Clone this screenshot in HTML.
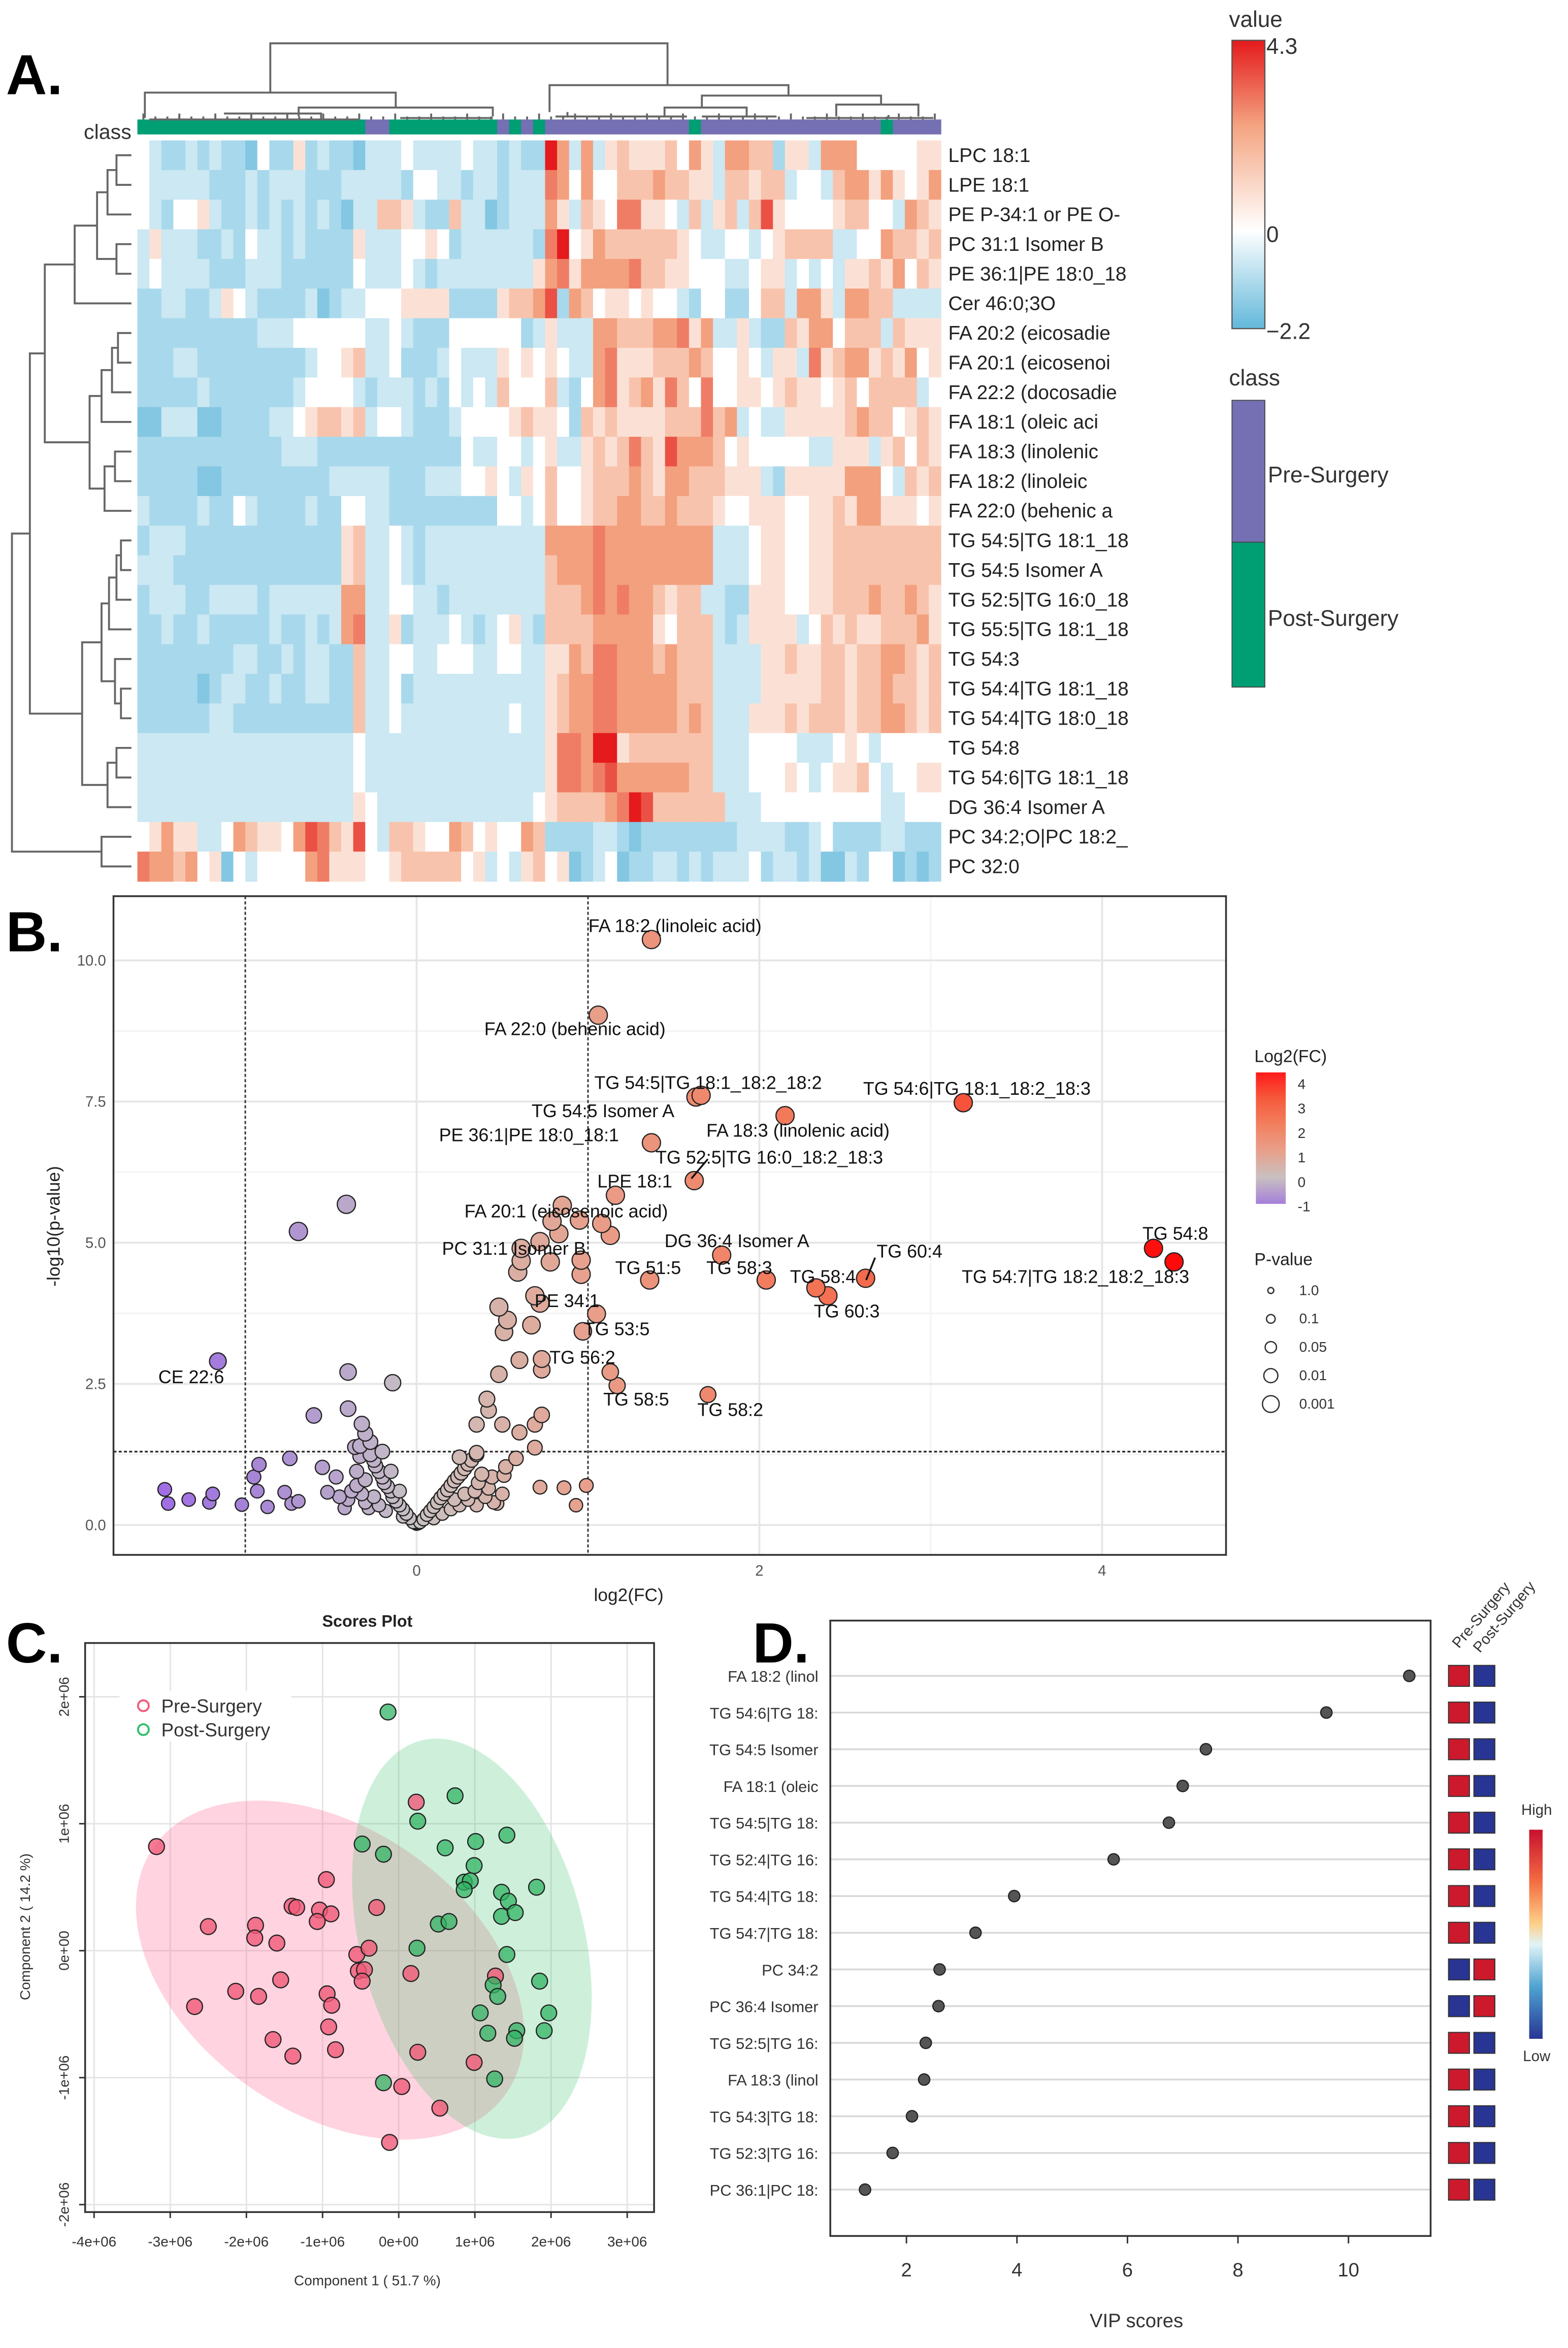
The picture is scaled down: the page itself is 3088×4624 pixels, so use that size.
<!DOCTYPE html>
<html><head><meta charset="utf-8">
<style>
html,body{margin:0;padding:0;background:#fff}
svg{display:block}
text{font-family:"Liberation Sans",sans-serif}
</style></head>
<body>
<svg id="fig" xmlns="http://www.w3.org/2000/svg" width="3088" height="4624" viewBox="0 0 1050 1572" preserveAspectRatio="none"></svg>
<script>
/* ================= DATA ================= */
// Panel A heatmap
const hmRowLabels = ["LPC 18:1","LPE 18:1","PE P-34:1 or PE O-","PC 31:1 Isomer B","PE 36:1|PE 18:0_18","Cer 46:0;3O","FA 20:2 (eicosadie","FA 20:1 (eicosenoi","FA 22:2 (docosadie","FA 18:1 (oleic aci","FA 18:3 (linolenic","FA 18:2 (linoleic","FA 22:0 (behenic a","TG 54:5|TG 18:1_18","TG 54:5 Isomer A","TG 52:5|TG 16:0_18","TG 55:5|TG 18:1_18","TG 54:3","TG 54:4|TG 18:1_18","TG 54:4|TG 18:0_18","TG 54:8","TG 54:6|TG 18:1_18","DG 36:4 Isomer A","PC 34:2;O|PC 18:2_","PC 32:0"];
const hmClass = "GGGGGGGGGGGGGGGGGGGPPGGGGGGGGGPGPGPPPPPPPPPPPPGPPPPPPPPPPPPPPPGPPPP";
const hmCodeValues = {"1":-1.6,"2":-1.0,"3":-0.5,"4":0,"5":0.5,"6":1.0,"7":1.6,"8":2.3,"9":3.2,"X":4.3};
const hmRows = [
"4322323221 4225232213 3343333433 2322 X737356555 6475377662 5537774444 455",
"4333332223 2333222333 3324433233 2333 8747446667 6655366566 3443677575 457",
"4324453223 2323232133 6653226331 2333 7536548855 4363563695 4444566443 765",
"3533322324 3323222253 3344542333 3332 8X45766666 6543344345 6666334476 656",
"3433332223 3322222243 3343233333 3335 7857777866 5544433455 3434355657 465",
"2233223543 2222312334 4455552222 5667 9276455454 4324422466 3775377663 333",
"2222222222 3334444443 3432224444 4423 5333776667 7857335322 6577466636 555",
"2223322222 2222344563 3422234333 5454 5433785556 6676445435 5385677565 745",
"2222232222 2223444432 3332324343 6444 6324785675 8648445545 6554564666 634",
"1133311222 2334566563 4432223444 4565 5426565555 6668673433 5555567664 565",
"2222222222 2233322222 2222222433 4434 5335656865 9777645444 4433555356 465",
"2222211222 2222223333 3222333445 4354 6445666765 7766655532 5555577743 656",
"3222232243 2222322443 3222222222 4434 6445667766 7666544555 4455657755 545",
"2333222222 2222222563 3432333333 3333 7777877777 7777333455 4455666666 666",
"3332222222 2222222563 3432333333 3333 6777877777 7777333455 4455666666 666",
"2333223333 2333333773 3443323333 3333 6667878776 5663322555 4455666766 765",
"2232232222 2322323783 3523334323 4532 6666777775 4666323555 5346565566 675",
"2222222233 2232332263 3443344433 4433 5576887776 7666333355 6556656677 656",
"2222212332 2322332263 3423333333 3333 5677887777 7666333355 5556656676 656",
"2222223322 2222222263 3433333333 3433 5677887777 7676333555 6566656677 656",
"3333333333 3333333343 3333333333 3333 5887XX5666 6666333444 4333454344 444",
"3333333333 3333333343 3333333333 3333 5887897777 7766333444 5434556434 455",
"3333333333 3333333354 3333333333 3334 5666678X96 6666633344 4444444433 444",
"4575533476 5547986594 3665447645 4476 2222332122 2222223333 2234222233 222",
"8776745143 4444785554 4566666453 4356 4512341223 3232333423 3231132441 212"
];
// Panel B volcano
const volcLog2FC = [1.37,1.06,1.66,1.63,3.19,2.15,1.37,1.62,1.16,0.85,0.79,0.95,1.08,1.13,0.83,0.72,0.61,0.61,0.78,0.96,0.59,0.96,1.78,1.36,2.04,2.33,2.40,2.62,4.30,4.42,0.69,0.72,0.48,0.53,0.51,0.67,1.05,0.97,0.60,0.73,0.73,0.48,1.13,1.17,1.70,-1.16,-0.41,-0.69,-0.40,-0.14,-0.40,-0.60,-0.32,0.41,0.42,0.73,0.35,0.50,0.69,0.60,0.69,0.58,0.52,0.51,0.72,0.86,0.99,0.93,0.35,0.47,
-1.47,-1.45,-1.33,-1.19,-1.21,-1.02,-0.92,-0.95,-0.93,-0.87,-0.74,-0.77,-0.73,-0.69,-0.55,-0.52,-0.47,-0.36,-0.33,-0.27,-0.30,
-0.02,-0.04,-0.06,-0.08,-0.10,-0.12,-0.14,-0.15,-0.17,-0.19,-0.20,-0.22,-0.24,-0.25,-0.27,-0.30,-0.32,-0.35,-0.38,-0.40,-0.28,-0.22,-0.18,-0.25,-0.30,-0.35,-0.42,-0.45,-0.20,-0.33,-0.15,-0.10,-0.08,
0.02,0.04,0.06,0.08,0.10,0.12,0.14,0.16,0.18,0.20,0.22,0.24,0.26,0.28,0.30,0.32,0.34,0.36,0.38,0.40,0.42,0.30,0.25,0.20,0.35,0.45,0.15,0.50,0.10,0.28,0.22,0.44,0.35,0.25,0.00,0.01,-0.01];
const volcNegLogP = [10.37,9.03,7.61,7.58,7.48,7.25,6.77,6.10,5.84,5.66,5.38,5.40,5.34,5.13,5.16,5.02,4.90,4.68,4.66,4.69,4.48,4.44,4.78,4.34,4.34,4.20,4.06,4.37,4.90,4.66,4.06,3.93,3.86,3.63,3.42,3.54,3.74,3.43,2.92,2.94,2.75,2.67,2.71,2.47,2.31,2.90,5.68,5.20,2.71,2.52,2.06,1.94,1.79,2.23,2.03,1.95,1.78,1.78,1.78,1.64,1.37,1.18,1.03,0.88,0.67,0.66,0.70,0.35,1.28,0.38,
0.63,0.38,0.45,0.55,0.40,0.36,1.07,0.85,0.60,0.32,1.18,0.58,0.38,0.42,1.02,0.58,0.85,1.38,1.22,1.47,1.62,
0.05,0.12,0.20,0.28,0.35,0.42,0.50,0.60,0.68,0.75,0.85,0.95,1.05,1.15,1.25,0.40,0.55,0.70,0.60,0.45,0.30,0.35,0.25,0.50,0.80,0.95,0.30,0.50,1.30,1.40,0.95,0.60,0.15,
0.05,0.10,0.18,0.25,0.32,0.40,0.48,0.55,0.62,0.70,0.78,0.85,0.92,1.00,1.08,1.15,0.60,0.75,0.90,0.50,0.65,0.45,0.35,0.28,0.35,0.40,0.20,0.55,0.12,0.55,0.45,0.85,1.25,1.20,0.02,0.03,0.04];
const volcLabels = ["FA 18:2 (linoleic acid)","FA 22:0 (behenic acid)","TG 54:5|TG 18:1_18:2_18:2","TG 54:6|TG 18:1_18:2_18:3","TG 54:5 Isomer A","FA 18:3 (linolenic acid)","PE 36:1|PE 18:0_18:1","TG 52:5|TG 16:0_18:2_18:3","LPE 18:1","FA 20:1 (eicosenoic acid)","DG 36:4 Isomer A","TG 60:4","TG 54:8","PC 31:1 Isomer B","TG 51:5","TG 58:3","TG 58:4","TG 54:7|TG 18:2_18:2_18:3","PE 34:1","TG 60:3","TG 53:5","TG 56:2","CE 22:6","TG 58:5","TG 58:2"];
const volcXTicks = [0,2,4];
const volcYTicks = [0,2.5,5,7.5,10];
const volcYTickLabels = ["0.0","2.5","5.0","7.5","10.0"];
const fcLegendVals = [4,3,2,1,0,-1];
const pLegendLabels = ["1.0","0.1","0.05","0.01","0.001"];
// Panel C scores (units of 1e6)
const preX = [-3.18,-0.95,-1.40,-1.34,-1.04,-0.89,-1.07,-2.50,-1.88,-1.89,-1.60,-0.29,-0.55,-0.39,-0.53,-0.45,-0.48,-1.55,-2.14,-1.84,-0.94,-0.88,-2.68,-0.92,-1.65,-1.39,-0.83,0.16,0.23,0.25,0.99,1.27,0.04,0.54,-0.12];
const preY = [0.82,0.56,0.35,0.34,0.32,0.29,0.23,0.19,0.20,0.10,0.06,0.34,-0.03,0.02,-0.16,-0.15,-0.24,-0.23,-0.32,-0.36,-0.34,-0.43,-0.44,-0.60,-0.70,-0.83,-0.78,-0.18,1.17,-0.80,-0.88,-0.20,-1.07,-1.24,-1.51];
const postX = [-0.14,0.74,0.25,-0.48,-0.20,0.61,1.01,1.42,0.99,0.86,0.94,0.86,1.81,1.35,1.44,1.35,1.53,0.52,0.66,0.24,1.42,1.85,1.24,1.30,1.97,1.07,1.17,1.55,1.52,1.91,-0.20,1.26];
const postY = [1.88,1.22,1.02,0.84,0.76,0.81,0.86,0.91,0.67,0.54,0.55,0.48,0.50,0.46,0.39,0.27,0.30,0.21,0.23,0.02,-0.03,-0.24,-0.27,-0.36,-0.49,-0.49,-0.65,-0.63,-0.69,-0.63,-1.04,-1.01];
const scoreXTicks = [-4,-3,-2,-1,0,1,2,3];
const scoreYTicks = [-2,-1,0,1,2];
// Panel D VIP
const vipLabels = ["FA 18:2 (linol","TG 54:6|TG 18:","TG 54:5 Isomer","FA 18:1 (oleic","TG 54:5|TG 18:","TG 52:4|TG 16:","TG 54:4|TG 18:","TG 54:7|TG 18:","PC 34:2","PC 36:4 Isomer","TG 52:5|TG 16:","FA 18:3 (linol","TG 54:3|TG 18:","TG 52:3|TG 16:","PC 36:1|PC 18:"];
const vipScores = [11.1,9.6,7.42,7.0,6.75,5.75,3.95,3.25,2.6,2.58,2.35,2.32,2.1,1.75,1.25];
const vipPreHigh = [1,1,1,1,1,1,1,1,0,0,1,1,1,1,1];
const vipXTicks = [2,4,6,8,10];

/* ================= HELPERS ================= */
const NS='http://www.w3.org/2000/svg';
const svg=document.getElementById('fig');
function mk(tag,attrs,parent,txt){const e=document.createElementNS(NS,tag);for(const k in attrs)e.setAttribute(k,attrs[k]);if(txt!==undefined)e.textContent=txt;(parent||svg).appendChild(e);return e;}
function lerp(a,b,t){return [0,1,2].map(i=>Math.round(a[i]+(b[i]-a[i])*t));}
function rgb(c){return 'rgb('+c.join(',')+')';}
const defs=mk('defs',{});

/* ================= PANEL A ================= */
const gA=mk('g',{});


let t=mk('text',{x:4,y:63,'font-size':38,'font-weight':'bold'},gA,'A.');



const hmX0=92,hmX1=630,hmY0=94,hmY1=590;
const nCols=hmClass.length;
const cw=(hmX1-hmX0)/nCols, rh=(hmY1-hmY0)/hmRowLabels.length;
function hmColor(v){
  if(v<0){const tt=Math.pow(Math.min(1,-v/2.2),0.75);return rgb(lerp([255,255,255],[98,184,218],tt));}
  if(v<=1.5){return rgb(lerp([255,255,255],[244,165,130],v/1.5));}
  return rgb(lerp([244,165,130],[228,26,28],Math.min(1,(v-1.5)/2.8)));
}
const cellG=mk('g',{},gA);


hmRows.forEach((rowStr,r)=>{
  const codes=rowStr.replace(/ /g,'');
  for(let c=0;c<codes.length;c++){
    const v=hmCodeValues[codes[c]];
    const cell=mk('rect',{x:hmX0+c*cw,y:hmY0+r*rh,width:cw+0.3,height:rh+0.3,fill:hmColor(v)},cellG);
    
    
  }
  const lb=mk('text',{x:635,y:hmY0+r*rh+rh/2+4.5,'font-size':13.2,fill:'#222'},gA,hmRowLabels[r]);
  
  
});
for(let c=0;c<nCols;c++){
  const cb=mk('rect',{x:hmX0+c*cw,y:80,width:cw+0.3,height:10,fill:hmClass[c]==='G'?'#009e73':'#7570b3'},gA);
  
  
}
t=mk('text',{x:88,y:93,'font-size':14,'text-anchor':'end',fill:'#333'},gA,'class');



// left dendrogram
const rowY=i=>hmY0+rh*(i+0.5);
const dl=mk('g',{stroke:'#666','stroke-width':1.3,fill:'none'},gA);


function join(xa,ya,xb,yb,xj){
  mk('path',{d:`M${xa},${ya}H${xj}V${yb}H${xb}`},dl);return (ya+yb)/2;}
const LX=88;
let a01=join(LX,rowY(0),LX,rowY(1),78);
let a2=join(78,a01,LX,rowY(2),72);
let a34=join(LX,rowY(3),LX,rowY(4),78);
let aA=join(72,a2,78,a34,65);
let aA5=join(65,aA,LX,rowY(5),50);
let b67=join(LX,rowY(6),LX,rowY(7),79);
let b8=join(79,b67,LX,rowY(8),75);
let b9=join(75,b8,LX,rowY(9),68);
let b1011=join(LX,rowY(10),LX,rowY(11),77);
let b12=join(77,b1011,LX,rowY(12),70);
let bClu=join(68,b9,70,b12,60);
let ab=join(50,aA5,60,bClu,30);
let c1314=join(LX,rowY(13),LX,rowY(14),81);
let c15=join(81,c1314,LX,rowY(15),78);
let c16=join(78,c15,LX,rowY(16),73);
let c1819=join(LX,rowY(18),LX,rowY(19),81);
let c17=join(LX,rowY(17),81,c1819,77);
let cC1=join(73,c16,77,c17,68);
let c2021=join(LX,rowY(20),LX,rowY(21),78);
let c22=join(78,c2021,LX,rowY(22),72);
let cClu=join(68,cC1,72,c22,55);
let abc=join(30,ab,55,cClu,20);
let pcj=join(LX,rowY(23),LX,rowY(24),68);
join(20,abc,68,pcj,8);

// top dendrogram
const dtg=mk('g',{stroke:'#666','stroke-width':1.3,fill:'none'},gA);


const topSegs=["M181,62V29H447V57","M97,79V62H265V72","M368,75V57H528V64","M200,78V72H330V78","M470,72V64H590V70","M445,78V72H500V78","M560,78V70H615V78","M100,80H240","M120,78V80","M150,76H215V80","M268,79H330","M372,78H460","M380,75V78","M470,78H520","M540,79H625","M595,77V79"];
topSegs.forEach(d=>{mk('path',{d:d},dtg);});
for(let c=0;c<nCols;c++){
  const x=hmX0+c*cw+cw/2;
  const tick=mk('line',{x1:x,y1:80,x2:x,y2:(c%3===0?76:78)},dtg);
  
  
}

// value legend
const lg1=mk('linearGradient',{id:'hmGrad',x1:0,y1:0,x2:0,y2:1},defs);
[[0,'#e41a1c'],[0.3,'#f4a582'],[0.66,'#ffffff'],[1,'#62b8da']].forEach(s=>mk('stop',{offset:s[0],'stop-color':s[1]},lg1));
t=mk('text',{x:823,y:18,'font-size':15,fill:'#333'},gA,'value');


t=mk('rect',{x:825,y:27,width:22,height:193,fill:'url(#hmGrad)',stroke:'#555','stroke-width':0.8},gA);


[['4.3',36],['0',162],['\u22122.2',227]].forEach(p=>{
  const l=mk('text',{x:848,y:p[1],'font-size':15,fill:'#333'},gA,p[0]);
  
  
});
t=mk('text',{x:823,y:258,'font-size':15,fill:'#333'},gA,'class');


t=mk('rect',{x:825,y:268,width:22,height:95,fill:'#7570b3',stroke:'#444','stroke-width':0.6},gA);


t=mk('rect',{x:825,y:363,width:22,height:97,fill:'#009e73',stroke:'#444','stroke-width':0.6},gA);


t=mk('text',{x:849,y:323,'font-size':15,fill:'#333'},gA,'Pre-Surgery');


t=mk('text',{x:849,y:419,'font-size':15,fill:'#333'},gA,'Post-Surgery');



/* ================= PANEL B ================= */
const gB=mk('g',{});


t=mk('text',{x:4,y:637,'font-size':38,'font-weight':'bold'},gB,'B.');


const bL=76,bR=821,bT=600,bBot=1041;
const bx=v=>279+v*114.75, by=v=>1021-v*37.8;
[-1,1,3].forEach(v=>{const g=mk('line',{x1:bx(v),x2:bx(v),y1:bT,y2:bBot,stroke:'#f3f3f3','stroke-width':1},gB);});
[1.25,3.75,6.25,8.75].forEach(v=>{const g=mk('line',{x1:bL,x2:bR,y1:by(v),y2:by(v),stroke:'#f3f3f3','stroke-width':1},gB);});
volcXTicks.forEach(v=>{
  const g=mk('line',{x1:bx(v),x2:bx(v),y1:bT,y2:bBot,stroke:'#e6e6e6','stroke-width':1.3},gB);
  
  
  const l=mk('text',{x:bx(v),y:1055,'font-size':10,'text-anchor':'middle',fill:'#555'},gB,String(v));
  
  
});
volcYTicks.forEach((v,i)=>{
  const g=mk('line',{x1:bL,x2:bR,y1:by(v),y2:by(v),stroke:'#e6e6e6','stroke-width':1.3},gB);
  
  
  const l=mk('text',{x:71,y:by(v)+3.5,'font-size':10,'text-anchor':'end',fill:'#555'},gB,volcYTickLabels[i]);
  
  
});
[-1,1].forEach(v=>{const g=mk('line',{x1:bx(v),x2:bx(v),y1:bT,y2:bBot,stroke:'#333','stroke-width':1,'stroke-dasharray':'2,1.5'},gB);});
t=mk('line',{x1:bL,x2:bR,y1:by(1.3),y2:by(1.3),stroke:'#333','stroke-width':1.2,'stroke-dasharray':'2,1.5'},gB);


function fcColor(v){
  const stops=[[-1.5,[160,110,230]],[-1,[165,130,215]],[0,[200,195,195]],[1,[232,160,140]],[2,[242,125,95]],[3,[246,95,65]],[4.4,[255,10,10]]];
  if(v<=stops[0][0])return rgb(stops[0][1]);
  for(let i=1;i<stops.length;i++){if(v<=stops[i][0]){return rgb(lerp(stops[i-1][1],stops[i][1],(v-stops[i-1][0])/(stops[i][0]-stops[i-1][0])));}}
  return rgb(stops[stops.length-1][1]);
}
const ptsB=mk('g',{},gB);


const orderB=volcLog2FC.map((_,i)=>i).sort((a,b)=>volcNegLogP[a]-volcNegLogP[b]);
orderB.forEach(i=>{
  const r=4.3+Math.min(volcNegLogP[i],4)*0.45;
  const p=mk('circle',{cx:bx(volcLog2FC[i]),cy:by(volcNegLogP[i]),r:r,fill:fcColor(volcLog2FC[i]),stroke:'#222','stroke-width':0.8},ptsB);
  
  
});
const volcLabelPos=[[452,624,'middle'],[385,693,'middle'],[398,729,'start'],[578,733,'start'],[356,748,'start'],[473,761,'start'],[294,764,'start'],[439,779,'start'],[400,795,'start'],[311,815,'start'],[445,835,'start'],[587,842,'start'],[765,830,'start'],[296,840,'start'],[412,853,'start'],[473,853,'start'],[529,859,'start'],[644,859,'start'],[358,875,'start'],[545,882,'start'],[391,894,'start'],[368,913,'start'],[106,926,'start'],[404,941,'start'],[467,948,'start']];
volcLabels.forEach((s,i)=>{
  const p=volcLabelPos[i];
  const l=mk('text',{x:p[0],y:p[1],'font-size':12.2,'text-anchor':p[2],fill:'#111'},gB,s);
  
  
});
t=mk('line',{x1:463,y1:789,x2:474,y2:776,stroke:'#111','stroke-width':1.2},gB);


t=mk('line',{x1:580,y1:857,x2:586,y2:842,stroke:'#111','stroke-width':1.2},gB);


t=mk('rect',{x:bL,y:bT,width:bR-bL,height:bBot-bT,fill:'none',stroke:'#333','stroke-width':1.2},gB);


t=mk('text',{x:421,y:1072,'font-size':12,'text-anchor':'middle',fill:'#222'},gB,'log2(FC)');


t=mk('text',{x:0,y:0,'font-size':12,'text-anchor':'middle',fill:'#222',transform:'translate(40,821) rotate(-90)'},gB,'-log10(p-value)');


const lg2=mk('linearGradient',{id:'fcGrad',x1:0,y1:0,x2:0,y2:1},defs);
[[0,'#ff1a1a'],[0.2,'#f65a3c'],[0.4,'#f2805f'],[0.6,'#e8a08c'],[0.8,'#c8c0c0'],[1,'#a57fd9']].forEach(s=>mk('stop',{offset:s[0],'stop-color':s[1]},lg2));
t=mk('text',{x:840,y:711,'font-size':11.5,fill:'#222'},gB,'Log2(FC)');


t=mk('rect',{x:841,y:718,width:20,height:88,fill:'url(#fcGrad)'},gB);


fcLegendVals.forEach((v,i)=>{
  const l=mk('text',{x:869,y:729+i*16.4,'font-size':9.5,fill:'#333'},gB,String(v));
  
  
});
t=mk('text',{x:840,y:847,'font-size':11.5,fill:'#222'},gB,'P-value');


pLegendLabels.forEach((s,i)=>{
  const c=mk('circle',{cx:851,cy:864+i*19,r:2+i*0.9,fill:'none',stroke:'#333','stroke-width':0.9},gB);
  
  
  const l=mk('text',{x:870,y:867+i*19,'font-size':9.5,fill:'#333'},gB,s);
  
  
});

/* ================= PANEL C ================= */
const gC=mk('g',{});


t=mk('text',{x:4,y:1113,'font-size':38,'font-weight':'bold'},gC,'C.');


const cL=57,cR=438,cT=1100,cBot=1481;
const sx=v=>267+v*51, sy=v=>1306-v*85;
scoreXTicks.forEach(v=>{
  const g=mk('line',{x1:sx(v),x2:sx(v),y1:cT,y2:cBot,stroke:'#e4e4e4','stroke-width':1},gC);
  
  
  const k=mk('line',{x1:sx(v),x2:sx(v),y1:cBot,y2:cBot+4,stroke:'#333'},gC);
  
  
  const l=mk('text',{x:sx(v),y:1504,'font-size':9.5,'text-anchor':'middle',fill:'#333'},gC,(v===0?'0e+00':(v<0?'-':'')+Math.abs(v)+'e+06'));
  
  
});
scoreYTicks.forEach(v=>{
  const g=mk('line',{x1:cL,x2:cR,y1:sy(v),y2:sy(v),stroke:'#e4e4e4','stroke-width':1},gC);
  
  
  const k=mk('line',{x1:cL-4,x2:cL,y1:sy(v),y2:sy(v),stroke:'#333'},gC);
  
  
  const l=mk('text',{x:0,y:0,'font-size':9.5,'text-anchor':'middle',fill:'#333',transform:`translate(46,${sy(v)}) rotate(-90)`},gC,(v===0?'0e+00':(v<0?'-':'')+Math.abs(v)+'e+06'));
  
  
});
t=mk('ellipse',{cx:221,cy:1319,rx:144,ry:95,transform:'rotate(35 221 1319)',fill:'rgba(255,110,150,0.3)'},gC);


t=mk('ellipse',{cx:316,cy:1298,rx:137,ry:75,transform:'rotate(75.6 316 1298)',fill:'rgba(60,195,110,0.25)'},gC);


preX.forEach((v,i)=>{
  const p=mk('circle',{cx:sx(v),cy:sy(preY[i]),r:5.3,fill:'rgba(240,90,120,0.8)',stroke:'#222','stroke-width':0.8},gC);
  
  
});
postX.forEach((v,i)=>{
  const p=mk('circle',{cx:sx(v),cy:sy(postY[i]),r:5.3,fill:'rgba(50,180,100,0.75)',stroke:'#222','stroke-width':0.8},gC);
  
  
});
t=mk('rect',{x:cL,y:cT,width:cR-cL,height:cBot-cT,fill:'none',stroke:'#333','stroke-width':1.2},gC);


t=mk('rect',{x:80,y:1132,width:115,height:34,fill:'#fff'},gC);


t=mk('circle',{cx:96,cy:1142,r:3.6,fill:'none',stroke:'#f05a78','stroke-width':1.3},gC);


t=mk('text',{x:108,y:1146.5,'font-size':12.5,fill:'#333'},gC,'Pre-Surgery');


t=mk('circle',{cx:96,cy:1158,r:3.6,fill:'none',stroke:'#2fbf6a','stroke-width':1.3},gC);


t=mk('text',{x:108,y:1162.5,'font-size':12.5,fill:'#333'},gC,'Post-Surgery');


t=mk('text',{x:246,y:1089,'font-size':11,'font-weight':'bold','text-anchor':'middle',fill:'#222'},gC,'Scores Plot');


t=mk('text',{x:246,y:1530,'font-size':9.5,'text-anchor':'middle',fill:'#333'},gC,'Component 1 ( 51.7 %)');


t=mk('text',{x:0,y:0,'font-size':9.5,'text-anchor':'middle',fill:'#333',transform:'translate(20,1290) rotate(-90)'},gC,'Component 2 ( 14.2 %)');



/* ================= PANEL D ================= */
const gD=mk('g',{});


t=mk('text',{x:504,y:1113,'font-size':38,'font-weight':'bold'},gD,'D.');


const dL=556,dR=958,dT=1085,dBot=1497;
const vx=v=>533+v*37, vy=i=>1122+i*24.57;
vipLabels.forEach((s,i)=>{
  const g=mk('line',{x1:dL,x2:dR,y1:vy(i),y2:vy(i),stroke:'#d8d8d8','stroke-width':1.2},gD);
  
  
  const l=mk('text',{x:548,y:vy(i)+4,'font-size':10.5,'text-anchor':'end',fill:'#333'},gD,s);
  
  
  const p=mk('circle',{cx:vx(vipScores[i]),cy:vy(i),r:3.8,fill:'#555',stroke:'#222','stroke-width':0.8},gD);
  
  
  const s1=mk('rect',{x:970,y:vy(i)-7,width:14,height:14,fill:vipPreHigh[i]?'#cc1a2c':'#283593',stroke:'#333','stroke-width':0.7},gD);
  
  
  const s2=mk('rect',{x:987,y:vy(i)-7,width:14,height:14,fill:vipPreHigh[i]?'#283593':'#cc1a2c',stroke:'#333','stroke-width':0.7},gD);
  
  
});
t=mk('rect',{x:dL,y:dT,width:dR-dL,height:dBot-dT,fill:'none',stroke:'#333','stroke-width':1.2},gD);


vipXTicks.forEach(v=>{
  const k=mk('line',{x1:vx(v),x2:vx(v),y1:dBot,y2:dBot+5,stroke:'#333'},gD);
  
  
  const l=mk('text',{x:vx(v),y:1524,'font-size':13,'text-anchor':'middle',fill:'#333'},gD,String(v));
  
  
});
t=mk('text',{x:761,y:1558,'font-size':13,'text-anchor':'middle',fill:'#333'},gD,'VIP scores');


t=mk('text',{x:0,y:0,'font-size':10,fill:'#333',transform:'translate(977,1104) rotate(-50)'},gD,'Pre-Surgery');


t=mk('text',{x:0,y:0,'font-size':10,fill:'#333',transform:'translate(991,1107) rotate(-50)'},gD,'Post-Surgery');


const lg3=mk('linearGradient',{id:'vipGrad',x1:0,y1:0,x2:0,y2:1},defs);
[[0,'#c8102e'],[0.25,'#f46d43'],[0.45,'#fdd08a'],[0.55,'#e0f3f8'],[0.75,'#4fa3d1'],[1,'#283593']].forEach(s=>mk('stop',{offset:s[0],'stop-color':s[1]},lg3));
t=mk('rect',{x:1024,y:1225,width:9,height:140,fill:'url(#vipGrad)'},gD);


t=mk('text',{x:1029,y:1215,'font-size':10,'text-anchor':'middle',fill:'#333'},gD,'High');


t=mk('text',{x:1029,y:1380,'font-size':10,'text-anchor':'middle',fill:'#333'},gD,'Low');


</script>
</body></html>
